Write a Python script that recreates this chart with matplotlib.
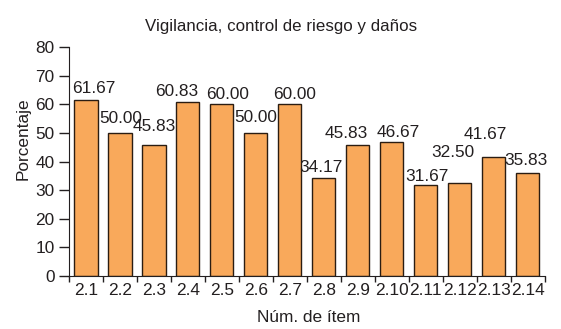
import matplotlib

matplotlib.use("Agg")
import matplotlib.pyplot as plt  # noqa: E402
from matplotlib.ticker import FixedLocator, NullFormatter  # noqa: E402

items = ["2.1", "2.2", "2.3", "2.4", "2.5", "2.6", "2.7",
         "2.8", "2.9", "2.10", "2.11", "2.12", "2.13", "2.14"]
values = [61.67, 50.00, 45.83, 60.83, 60.00, 50.00, 60.00,
          34.17, 45.83, 46.67, 31.67, 32.50, 41.67, 35.83]

# hand placement of the value labels (pixels, relative to bar centre / bar top)
label_dx = [8, 1, 0, -11, 6, 0, 5, -3, -12, 6, 1, -7, -8, -2]
label_dy = [7, 10, 14, 6, 5, 11, 5, 6, 7, 5, 4, 26, 18, 8]

INK = "#231f20"
FS = 12.4
plt.rcParams["font.family"] = ["Liberation Sans", "DejaVu Sans"]
plt.rcParams["text.color"] = INK
plt.rcParams["axes.labelcolor"] = INK
plt.rcParams["xtick.color"] = INK
plt.rcParams["ytick.color"] = INK

fig = plt.figure(figsize=(5.61, 3.29), dpi=100)
ax = fig.add_axes([0.123, 0.161, 0.848, 0.696])

x = list(range(len(items)))
ax.bar(x, values, width=0.68, color="#f9a95b", edgecolor="#2b1d12", linewidth=1.0)

for i, v in enumerate(values):
    ax.annotate(f"{v:.2f}", (i, v), xytext=(label_dx[i], label_dy[i]),
                textcoords="offset pixels", ha="center", va="baseline",
                fontsize=FS)

ax.set_xlim(-0.5, len(items) - 0.5)
ax.set_ylim(0, 80)
ax.set_yticks(range(0, 81, 10))
ax.xaxis.set_major_locator(FixedLocator([i - 0.5 for i in range(len(items) + 1)]))
ax.xaxis.set_major_formatter(NullFormatter())
ax.xaxis.set_minor_locator(FixedLocator(x))
ax.set_xticklabels(items, minor=True)
ax.tick_params(axis="x", which="major", length=4, width=1, direction="out")
ax.tick_params(axis="x", which="minor", length=0, pad=5, labelsize=FS)
ax.tick_params(axis="y", length=7, width=1, pad=3.5, labelsize=FS)

for side in ("top", "right"):
    ax.spines[side].set_visible(False)
ax.spines["left"].set_color(INK)
ax.spines["bottom"].set_color(INK)

ax.set_title("Vigilancia, control de riesgo y daños", fontsize=12.2, pad=11.5, x=0.445)
ax.set_ylabel("Porcentaje", fontsize=FS)
ax.set_xlabel("Núm. de ítem", fontsize=FS)
ax.yaxis.set_label_coords(-0.08, 0.60)
ax.xaxis.set_label_coords(0.504, -0.149)

fig.savefig("out.png", dpi=100)
plt.close(fig)
